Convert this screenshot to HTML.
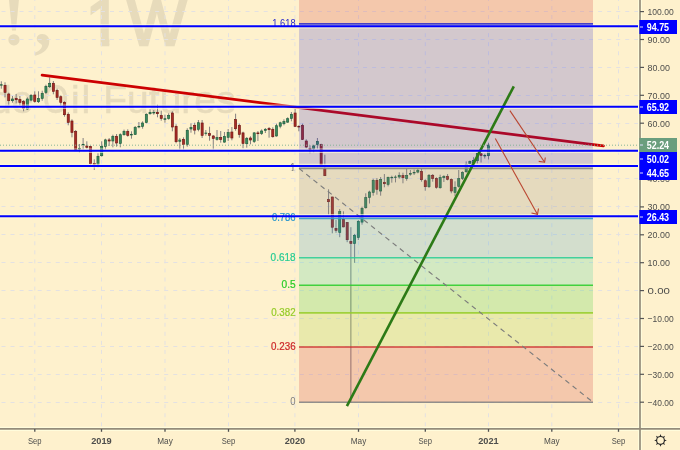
<!DOCTYPE html>
<html><head><meta charset="utf-8"><style>
html,body{margin:0;padding:0;background:#FEF1CD;}
body{width:680px;height:450px;overflow:hidden;}
svg{display:block;will-change:transform;}
</style></head><body>
<svg width="680" height="450" viewBox="0 0 680 450">
<defs><clipPath id="c1"><rect x="80" y="-10" width="40" height="47.6"/><rect x="100.7" y="30" width="8.6" height="20"/></clipPath></defs>
<rect width="680" height="450" fill="#FEF1CD"/>
<g fill="#E7DBBB">
<text x="2.6" y="45.3" font-size="69" font-weight="bold" font-family="Liberation Serif, serif">!</text>
<text x="34" y="45" font-size="72" font-weight="bold" font-family="Liberation Serif, serif">,</text>
<g stroke="#E7DBBB" stroke-width="2.6" font-family="Liberation Sans, sans-serif" font-size="64">
<text x="85.8" y="45" clip-path="url(#c1)">1</text>
<text x="127.3" y="45" textLength="59.2" lengthAdjust="spacingAndGlyphs">W</text>
</g></g>
<g font-size="39" fill="#E7DBBB" stroke="#E7DBBB" stroke-width="0.5" font-family="Liberation Sans, sans-serif">
<text x="33.3" y="113" text-anchor="end">Light Crude</text>
<text x="43.1" y="113.3" font-size="40" textLength="25.5" lengthAdjust="spacingAndGlyphs">O</text>
<text x="71" y="113">i</text>
<text x="81.6" y="113">l</text>
<text x="103.3" y="113">Futures</text>
</g>
<g stroke="#E3E1E2" stroke-width="1" fill="none">
<line x1="0" y1="11.5" x2="640" y2="11.5" stroke-dasharray="4 5.04" stroke-dashoffset="-1.5"/>
<line x1="0" y1="39.5" x2="640" y2="39.5" stroke-dasharray="4 5.04" stroke-dashoffset="-1.5"/>
<line x1="0" y1="67.5" x2="640" y2="67.5" stroke-dasharray="4 5.04" stroke-dashoffset="-1.5"/>
<line x1="0" y1="95.5" x2="640" y2="95.5" stroke-dasharray="4 5.04" stroke-dashoffset="-1.5"/>
<line x1="0" y1="123.5" x2="640" y2="123.5" stroke-dasharray="4 5.04" stroke-dashoffset="-1.5"/>
<line x1="0" y1="151.5" x2="640" y2="151.5" stroke-dasharray="4 5.04" stroke-dashoffset="-1.5"/>
<line x1="0" y1="178.5" x2="640" y2="178.5" stroke-dasharray="4 5.04" stroke-dashoffset="-1.5"/>
<line x1="0" y1="206.5" x2="640" y2="206.5" stroke-dasharray="4 5.04" stroke-dashoffset="-1.5"/>
<line x1="0" y1="234.5" x2="640" y2="234.5" stroke-dasharray="4 5.04" stroke-dashoffset="-1.5"/>
<line x1="0" y1="262.5" x2="640" y2="262.5" stroke-dasharray="4 5.04" stroke-dashoffset="-1.5"/>
<line x1="0" y1="290.5" x2="640" y2="290.5" stroke-dasharray="4 5.04" stroke-dashoffset="-1.5"/>
<line x1="0" y1="318.5" x2="640" y2="318.5" stroke-dasharray="4 5.04" stroke-dashoffset="-1.5"/>
<line x1="0" y1="346.5" x2="640" y2="346.5" stroke-dasharray="4 5.04" stroke-dashoffset="-1.5"/>
<line x1="0" y1="374.5" x2="640" y2="374.5" stroke-dasharray="4 5.04" stroke-dashoffset="-1.5"/>
<line x1="0" y1="402.5" x2="640" y2="402.5" stroke-dasharray="4 5.04" stroke-dashoffset="-1.5"/>
<line x1="34.8" y1="0" x2="34.8" y2="428.8" stroke-dasharray="4 5.05" stroke-dashoffset="-6"/>
<line x1="101.5" y1="0" x2="101.5" y2="428.8" stroke-dasharray="4 5.05" stroke-dashoffset="-6"/>
<line x1="165.0" y1="0" x2="165.0" y2="428.8" stroke-dasharray="4 5.05" stroke-dashoffset="-6"/>
<line x1="228.5" y1="0" x2="228.5" y2="428.8" stroke-dasharray="4 5.05" stroke-dashoffset="-6"/>
<line x1="294.9" y1="0" x2="294.9" y2="428.8" stroke-dasharray="4 5.05" stroke-dashoffset="-6"/>
<line x1="358.5" y1="0" x2="358.5" y2="428.8" stroke-dasharray="4 5.05" stroke-dashoffset="-6"/>
<line x1="425.3" y1="0" x2="425.3" y2="428.8" stroke-dasharray="4 5.05" stroke-dashoffset="-6"/>
<line x1="488.5" y1="0" x2="488.5" y2="428.8" stroke-dasharray="4 5.05" stroke-dashoffset="-6"/>
<line x1="551.8" y1="0" x2="551.8" y2="428.8" stroke-dasharray="4 5.05" stroke-dashoffset="-6"/>
<line x1="618.5" y1="0" x2="618.5" y2="428.8" stroke-dasharray="4 5.05" stroke-dashoffset="-6"/>
</g>
<g>
<line x1="1.30" y1="81.3" x2="1.30" y2="88.7" stroke="#858080" stroke-width="1"/>
<line x1="5.02" y1="82.3" x2="5.02" y2="97.3" stroke="#858080" stroke-width="1"/>
<line x1="8.74" y1="92.7" x2="8.74" y2="105.3" stroke="#858080" stroke-width="1"/>
<line x1="12.46" y1="96" x2="12.46" y2="102.7" stroke="#858080" stroke-width="1"/>
<line x1="16.18" y1="94" x2="16.18" y2="103.3" stroke="#858080" stroke-width="1"/>
<line x1="19.89" y1="96" x2="19.89" y2="105.3" stroke="#858080" stroke-width="1"/>
<line x1="23.61" y1="100" x2="23.61" y2="111.3" stroke="#858080" stroke-width="1"/>
<line x1="27.33" y1="97.3" x2="27.33" y2="110" stroke="#858080" stroke-width="1"/>
<line x1="31.05" y1="94" x2="31.05" y2="101.3" stroke="#858080" stroke-width="1"/>
<line x1="34.77" y1="91.3" x2="34.77" y2="102.7" stroke="#858080" stroke-width="1"/>
<line x1="38.49" y1="91.3" x2="38.49" y2="103" stroke="#858080" stroke-width="1"/>
<line x1="42.21" y1="90.7" x2="42.21" y2="100.7" stroke="#858080" stroke-width="1"/>
<line x1="45.93" y1="84.7" x2="45.93" y2="94" stroke="#858080" stroke-width="1"/>
<line x1="49.65" y1="77.3" x2="49.65" y2="88" stroke="#858080" stroke-width="1"/>
<line x1="53.37" y1="81" x2="53.37" y2="94.3" stroke="#858080" stroke-width="1"/>
<line x1="57.08" y1="88.7" x2="57.08" y2="100" stroke="#858080" stroke-width="1"/>
<line x1="60.80" y1="95.3" x2="60.80" y2="105.7" stroke="#858080" stroke-width="1"/>
<line x1="64.52" y1="101.3" x2="64.52" y2="116.7" stroke="#858080" stroke-width="1"/>
<line x1="68.24" y1="112.4" x2="68.24" y2="125.3" stroke="#858080" stroke-width="1"/>
<line x1="71.96" y1="119.3" x2="71.96" y2="137.3" stroke="#858080" stroke-width="1"/>
<line x1="75.68" y1="130" x2="75.68" y2="150" stroke="#858080" stroke-width="1"/>
<line x1="79.40" y1="144" x2="79.40" y2="152.7" stroke="#858080" stroke-width="1"/>
<line x1="83.12" y1="138" x2="83.12" y2="149.3" stroke="#858080" stroke-width="1"/>
<line x1="86.84" y1="141.3" x2="86.84" y2="148.7" stroke="#858080" stroke-width="1"/>
<line x1="90.56" y1="145.7" x2="90.56" y2="164.7" stroke="#858080" stroke-width="1"/>
<line x1="94.27" y1="159.3" x2="94.27" y2="170" stroke="#858080" stroke-width="1"/>
<line x1="97.99" y1="153.3" x2="97.99" y2="167.3" stroke="#858080" stroke-width="1"/>
<line x1="101.71" y1="141.3" x2="101.71" y2="156.7" stroke="#858080" stroke-width="1"/>
<line x1="105.43" y1="138.7" x2="105.43" y2="149.3" stroke="#858080" stroke-width="1"/>
<line x1="109.15" y1="138" x2="109.15" y2="146" stroke="#858080" stroke-width="1"/>
<line x1="112.87" y1="134.7" x2="112.87" y2="147.3" stroke="#858080" stroke-width="1"/>
<line x1="116.59" y1="134" x2="116.59" y2="146.7" stroke="#858080" stroke-width="1"/>
<line x1="120.31" y1="133.3" x2="120.31" y2="147.3" stroke="#858080" stroke-width="1"/>
<line x1="124.03" y1="129.6" x2="124.03" y2="135.7" stroke="#858080" stroke-width="1"/>
<line x1="127.75" y1="129.3" x2="127.75" y2="136.7" stroke="#858080" stroke-width="1"/>
<line x1="131.47" y1="131.3" x2="131.47" y2="138.7" stroke="#858080" stroke-width="1"/>
<line x1="135.18" y1="126" x2="135.18" y2="135" stroke="#858080" stroke-width="1"/>
<line x1="138.90" y1="122" x2="138.90" y2="128.3" stroke="#858080" stroke-width="1"/>
<line x1="142.62" y1="121.3" x2="142.62" y2="128.7" stroke="#858080" stroke-width="1"/>
<line x1="146.34" y1="113.3" x2="146.34" y2="123.3" stroke="#858080" stroke-width="1"/>
<line x1="150.06" y1="109.3" x2="150.06" y2="114.7" stroke="#858080" stroke-width="1"/>
<line x1="153.78" y1="110" x2="153.78" y2="114.7" stroke="#858080" stroke-width="1"/>
<line x1="157.50" y1="104.7" x2="157.50" y2="117.3" stroke="#858080" stroke-width="1"/>
<line x1="161.22" y1="110.7" x2="161.22" y2="120.7" stroke="#858080" stroke-width="1"/>
<line x1="164.94" y1="114.7" x2="164.94" y2="122.7" stroke="#858080" stroke-width="1"/>
<line x1="168.66" y1="113.3" x2="168.66" y2="119.7" stroke="#858080" stroke-width="1"/>
<line x1="172.37" y1="111.3" x2="172.37" y2="131.3" stroke="#858080" stroke-width="1"/>
<line x1="176.09" y1="124.3" x2="176.09" y2="143.3" stroke="#858080" stroke-width="1"/>
<line x1="179.81" y1="138" x2="179.81" y2="149.3" stroke="#858080" stroke-width="1"/>
<line x1="183.53" y1="137.3" x2="183.53" y2="149.3" stroke="#858080" stroke-width="1"/>
<line x1="187.25" y1="128.3" x2="187.25" y2="146.7" stroke="#858080" stroke-width="1"/>
<line x1="190.97" y1="123.3" x2="190.97" y2="132.7" stroke="#858080" stroke-width="1"/>
<line x1="194.69" y1="122.7" x2="194.69" y2="134.4" stroke="#858080" stroke-width="1"/>
<line x1="198.41" y1="120" x2="198.41" y2="131.3" stroke="#858080" stroke-width="1"/>
<line x1="202.13" y1="120" x2="202.13" y2="138" stroke="#858080" stroke-width="1"/>
<line x1="205.84" y1="130" x2="205.84" y2="135.7" stroke="#858080" stroke-width="1"/>
<line x1="209.56" y1="126.7" x2="209.56" y2="140.7" stroke="#858080" stroke-width="1"/>
<line x1="213.28" y1="135" x2="213.28" y2="149.3" stroke="#858080" stroke-width="1"/>
<line x1="217.00" y1="130" x2="217.00" y2="140.7" stroke="#858080" stroke-width="1"/>
<line x1="220.72" y1="131" x2="220.72" y2="142.7" stroke="#858080" stroke-width="1"/>
<line x1="224.44" y1="132" x2="224.44" y2="142.7" stroke="#858080" stroke-width="1"/>
<line x1="228.16" y1="129" x2="228.16" y2="141" stroke="#858080" stroke-width="1"/>
<line x1="231.88" y1="127" x2="231.88" y2="140.3" stroke="#858080" stroke-width="1"/>
<line x1="235.60" y1="113.7" x2="235.60" y2="130.7" stroke="#858080" stroke-width="1"/>
<line x1="239.32" y1="123.7" x2="239.32" y2="137.7" stroke="#858080" stroke-width="1"/>
<line x1="243.03" y1="131.7" x2="243.03" y2="148.3" stroke="#858080" stroke-width="1"/>
<line x1="246.75" y1="137" x2="246.75" y2="147.7" stroke="#858080" stroke-width="1"/>
<line x1="250.47" y1="136.3" x2="250.47" y2="144.3" stroke="#858080" stroke-width="1"/>
<line x1="254.19" y1="132" x2="254.19" y2="143" stroke="#858080" stroke-width="1"/>
<line x1="257.91" y1="131" x2="257.91" y2="141" stroke="#858080" stroke-width="1"/>
<line x1="261.63" y1="129.4" x2="261.63" y2="135" stroke="#858080" stroke-width="1"/>
<line x1="265.35" y1="128" x2="265.35" y2="133" stroke="#858080" stroke-width="1"/>
<line x1="269.07" y1="127" x2="269.07" y2="137.7" stroke="#858080" stroke-width="1"/>
<line x1="272.79" y1="127.3" x2="272.79" y2="137.7" stroke="#858080" stroke-width="1"/>
<line x1="276.51" y1="123.7" x2="276.51" y2="136.6" stroke="#858080" stroke-width="1"/>
<line x1="280.23" y1="121.7" x2="280.23" y2="128.3" stroke="#858080" stroke-width="1"/>
<line x1="283.94" y1="119.3" x2="283.94" y2="125.3" stroke="#858080" stroke-width="1"/>
<line x1="287.66" y1="117.3" x2="287.66" y2="123" stroke="#858080" stroke-width="1"/>
<line x1="291.38" y1="112" x2="291.38" y2="121.3" stroke="#858080" stroke-width="1"/>
<line x1="295.10" y1="108.7" x2="295.10" y2="126.7" stroke="#858080" stroke-width="1"/>
<line x1="298.82" y1="125.3" x2="298.82" y2="131.3" stroke="#858080" stroke-width="1"/>
<line x1="302.54" y1="123.7" x2="302.54" y2="140" stroke="#858080" stroke-width="1"/>
<line x1="306.26" y1="139.3" x2="306.26" y2="148.3" stroke="#858080" stroke-width="1"/>
<line x1="309.98" y1="145.3" x2="309.98" y2="153.3" stroke="#858080" stroke-width="1"/>
<line x1="313.70" y1="144.7" x2="313.70" y2="152.5" stroke="#858080" stroke-width="1"/>
<line x1="317.42" y1="138" x2="317.42" y2="148.7" stroke="#858080" stroke-width="1"/>
<line x1="321.13" y1="143.7" x2="321.13" y2="166.7" stroke="#858080" stroke-width="1"/>
<line x1="324.85" y1="154.7" x2="324.85" y2="176" stroke="#858080" stroke-width="1"/>
<line x1="328.57" y1="189.3" x2="328.57" y2="214.7" stroke="#858080" stroke-width="1"/>
<line x1="332.29" y1="196.7" x2="332.29" y2="233.3" stroke="#858080" stroke-width="1"/>
<line x1="336.01" y1="220" x2="336.01" y2="232.8" stroke="#858080" stroke-width="1"/>
<line x1="339.73" y1="209" x2="339.73" y2="237.2" stroke="#858080" stroke-width="1"/>
<line x1="343.45" y1="211.3" x2="343.45" y2="227.3" stroke="#858080" stroke-width="1"/>
<line x1="347.17" y1="222" x2="347.17" y2="242.2" stroke="#858080" stroke-width="1"/>
<line x1="350.89" y1="227.2" x2="350.89" y2="402.5" stroke="#858080" stroke-width="1"/>
<line x1="354.61" y1="233.9" x2="354.61" y2="262.8" stroke="#858080" stroke-width="1"/>
<line x1="358.32" y1="220" x2="358.32" y2="240" stroke="#858080" stroke-width="1"/>
<line x1="362.04" y1="206.7" x2="362.04" y2="224.7" stroke="#858080" stroke-width="1"/>
<line x1="365.76" y1="193.3" x2="365.76" y2="208.7" stroke="#858080" stroke-width="1"/>
<line x1="369.48" y1="190.7" x2="369.48" y2="203.5" stroke="#858080" stroke-width="1"/>
<line x1="373.20" y1="178.7" x2="373.20" y2="195.7" stroke="#858080" stroke-width="1"/>
<line x1="376.92" y1="178" x2="376.92" y2="194.7" stroke="#858080" stroke-width="1"/>
<line x1="380.64" y1="177" x2="380.64" y2="195.7" stroke="#858080" stroke-width="1"/>
<line x1="384.36" y1="174" x2="384.36" y2="187.3" stroke="#858080" stroke-width="1"/>
<line x1="388.08" y1="176.7" x2="388.08" y2="186.4" stroke="#858080" stroke-width="1"/>
<line x1="391.80" y1="175.7" x2="391.80" y2="182.7" stroke="#858080" stroke-width="1"/>
<line x1="395.51" y1="175.3" x2="395.51" y2="182.4" stroke="#858080" stroke-width="1"/>
<line x1="399.23" y1="172.3" x2="399.23" y2="178.7" stroke="#858080" stroke-width="1"/>
<line x1="402.95" y1="172.7" x2="402.95" y2="183.3" stroke="#858080" stroke-width="1"/>
<line x1="406.67" y1="168.7" x2="406.67" y2="180.7" stroke="#858080" stroke-width="1"/>
<line x1="410.39" y1="170" x2="410.39" y2="175.7" stroke="#858080" stroke-width="1"/>
<line x1="414.11" y1="169.6" x2="414.11" y2="175" stroke="#858080" stroke-width="1"/>
<line x1="417.83" y1="168.7" x2="417.83" y2="173.3" stroke="#858080" stroke-width="1"/>
<line x1="421.55" y1="168.7" x2="421.55" y2="181.7" stroke="#858080" stroke-width="1"/>
<line x1="425.27" y1="179.3" x2="425.27" y2="190.7" stroke="#858080" stroke-width="1"/>
<line x1="428.99" y1="174" x2="428.99" y2="188" stroke="#858080" stroke-width="1"/>
<line x1="432.70" y1="174" x2="432.70" y2="181.7" stroke="#858080" stroke-width="1"/>
<line x1="436.42" y1="177.3" x2="436.42" y2="188.7" stroke="#858080" stroke-width="1"/>
<line x1="440.14" y1="174.7" x2="440.14" y2="188.7" stroke="#858080" stroke-width="1"/>
<line x1="443.86" y1="175.3" x2="443.86" y2="182" stroke="#858080" stroke-width="1"/>
<line x1="447.58" y1="174" x2="447.58" y2="180.4" stroke="#858080" stroke-width="1"/>
<line x1="451.30" y1="178.3" x2="451.30" y2="193.3" stroke="#858080" stroke-width="1"/>
<line x1="455.02" y1="181.3" x2="455.02" y2="196" stroke="#858080" stroke-width="1"/>
<line x1="458.74" y1="170" x2="458.74" y2="187.6" stroke="#858080" stroke-width="1"/>
<line x1="462.46" y1="171.3" x2="462.46" y2="180" stroke="#858080" stroke-width="1"/>
<line x1="466.18" y1="161.4" x2="466.18" y2="172.8" stroke="#858080" stroke-width="1"/>
<line x1="469.89" y1="160.5" x2="469.89" y2="164.5" stroke="#858080" stroke-width="1"/>
<line x1="473.61" y1="157.2" x2="473.61" y2="164" stroke="#858080" stroke-width="1"/>
<line x1="477.33" y1="152.5" x2="477.33" y2="163.5" stroke="#858080" stroke-width="1"/>
<line x1="481.05" y1="152.8" x2="481.05" y2="162.5" stroke="#858080" stroke-width="1"/>
<line x1="484.77" y1="153.8" x2="484.77" y2="158.5" stroke="#858080" stroke-width="1"/>
<line x1="488.49" y1="142.8" x2="488.49" y2="159.5" stroke="#858080" stroke-width="1"/>
<rect x="0.25" y="84.70" width="2.1" height="0.50" fill="#3A8A5E" stroke="#1E5C3A" stroke-width="0.65"/>
<rect x="3.97" y="85.30" width="2.1" height="7.10" fill="#A82C26" stroke="#6E1512" stroke-width="0.65"/>
<rect x="7.69" y="94.00" width="2.1" height="6.70" fill="#A82C26" stroke="#6E1512" stroke-width="0.65"/>
<rect x="11.41" y="99.00" width="2.1" height="1.70" fill="#3A8A5E" stroke="#1E5C3A" stroke-width="0.65"/>
<rect x="15.13" y="98.30" width="2.1" height="1.40" fill="#A82C26" stroke="#6E1512" stroke-width="0.65"/>
<rect x="18.84" y="99.30" width="2.1" height="3.10" fill="#A82C26" stroke="#6E1512" stroke-width="0.65"/>
<rect x="22.56" y="101.60" width="2.1" height="6.80" fill="#A82C26" stroke="#6E1512" stroke-width="0.65"/>
<rect x="26.28" y="99.00" width="2.1" height="10.00" fill="#3A8A5E" stroke="#1E5C3A" stroke-width="0.65"/>
<rect x="30.00" y="95.60" width="2.1" height="4.50" fill="#3A8A5E" stroke="#1E5C3A" stroke-width="0.65"/>
<rect x="33.72" y="95.00" width="2.1" height="6.40" fill="#A82C26" stroke="#6E1512" stroke-width="0.65"/>
<rect x="37.44" y="98.60" width="2.1" height="3.10" fill="#3A8A5E" stroke="#1E5C3A" stroke-width="0.65"/>
<rect x="41.16" y="93.30" width="2.1" height="5.10" fill="#3A8A5E" stroke="#1E5C3A" stroke-width="0.65"/>
<rect x="44.88" y="86.30" width="2.1" height="6.10" fill="#3A8A5E" stroke="#1E5C3A" stroke-width="0.65"/>
<rect x="48.60" y="83.30" width="2.1" height="3.40" fill="#3A8A5E" stroke="#1E5C3A" stroke-width="0.65"/>
<rect x="52.32" y="83.30" width="2.1" height="8.00" fill="#A82C26" stroke="#6E1512" stroke-width="0.65"/>
<rect x="56.03" y="90.30" width="2.1" height="7.10" fill="#A82C26" stroke="#6E1512" stroke-width="0.65"/>
<rect x="59.75" y="96.70" width="2.1" height="5.70" fill="#A82C26" stroke="#6E1512" stroke-width="0.65"/>
<rect x="63.47" y="102.30" width="2.1" height="12.40" fill="#A82C26" stroke="#6E1512" stroke-width="0.65"/>
<rect x="67.19" y="114.30" width="2.1" height="8.10" fill="#A82C26" stroke="#6E1512" stroke-width="0.65"/>
<rect x="70.91" y="121.00" width="2.1" height="11.40" fill="#A82C26" stroke="#6E1512" stroke-width="0.65"/>
<rect x="74.63" y="131.60" width="2.1" height="17.80" fill="#A82C26" stroke="#6E1512" stroke-width="0.65"/>
<rect x="78.35" y="148.30" width="2.1" height="0.70" fill="#3A8A5E" stroke="#1E5C3A" stroke-width="0.65"/>
<rect x="82.07" y="144.30" width="2.1" height="0.50" fill="#3A8A5E" stroke="#1E5C3A" stroke-width="0.65"/>
<rect x="85.79" y="146.00" width="2.1" height="1.30" fill="#A82C26" stroke="#6E1512" stroke-width="0.65"/>
<rect x="89.51" y="146.60" width="2.1" height="17.10" fill="#A82C26" stroke="#6E1512" stroke-width="0.65"/>
<rect x="93.22" y="163.60" width="2.1" height="0.80" fill="#A82C26" stroke="#6E1512" stroke-width="0.65"/>
<rect x="96.94" y="156.30" width="2.1" height="8.10" fill="#3A8A5E" stroke="#1E5C3A" stroke-width="0.65"/>
<rect x="100.66" y="146.30" width="2.1" height="9.40" fill="#3A8A5E" stroke="#1E5C3A" stroke-width="0.65"/>
<rect x="104.38" y="139.90" width="2.1" height="6.50" fill="#3A8A5E" stroke="#1E5C3A" stroke-width="0.65"/>
<rect x="108.10" y="139.90" width="2.1" height="1.10" fill="#A82C26" stroke="#6E1512" stroke-width="0.65"/>
<rect x="111.82" y="136.30" width="2.1" height="4.70" fill="#3A8A5E" stroke="#1E5C3A" stroke-width="0.65"/>
<rect x="115.54" y="136.30" width="2.1" height="6.70" fill="#A82C26" stroke="#6E1512" stroke-width="0.65"/>
<rect x="119.26" y="134.70" width="2.1" height="8.70" fill="#3A8A5E" stroke="#1E5C3A" stroke-width="0.65"/>
<rect x="122.98" y="131.30" width="2.1" height="3.40" fill="#3A8A5E" stroke="#1E5C3A" stroke-width="0.65"/>
<rect x="126.70" y="131.30" width="2.1" height="4.10" fill="#A82C26" stroke="#6E1512" stroke-width="0.65"/>
<rect x="130.41" y="134.30" width="2.1" height="0.70" fill="#3A8A5E" stroke="#1E5C3A" stroke-width="0.65"/>
<rect x="134.13" y="127.60" width="2.1" height="6.80" fill="#3A8A5E" stroke="#1E5C3A" stroke-width="0.65"/>
<rect x="137.85" y="126.30" width="2.1" height="0.70" fill="#3A8A5E" stroke="#1E5C3A" stroke-width="0.65"/>
<rect x="141.57" y="123.00" width="2.1" height="3.40" fill="#3A8A5E" stroke="#1E5C3A" stroke-width="0.65"/>
<rect x="145.29" y="114.30" width="2.1" height="8.10" fill="#3A8A5E" stroke="#1E5C3A" stroke-width="0.65"/>
<rect x="149.01" y="112.30" width="2.1" height="1.40" fill="#3A8A5E" stroke="#1E5C3A" stroke-width="0.65"/>
<rect x="152.73" y="112.30" width="2.1" height="0.70" fill="#3A8A5E" stroke="#1E5C3A" stroke-width="0.65"/>
<rect x="156.45" y="112.30" width="2.1" height="1.40" fill="#A82C26" stroke="#6E1512" stroke-width="0.65"/>
<rect x="160.17" y="115.60" width="2.1" height="2.80" fill="#A82C26" stroke="#6E1512" stroke-width="0.65"/>
<rect x="163.89" y="118.70" width="2.1" height="0.70" fill="#3A8A5E" stroke="#1E5C3A" stroke-width="0.65"/>
<rect x="167.60" y="115.60" width="2.1" height="2.80" fill="#3A8A5E" stroke="#1E5C3A" stroke-width="0.65"/>
<rect x="171.32" y="113.00" width="2.1" height="14.00" fill="#A82C26" stroke="#6E1512" stroke-width="0.65"/>
<rect x="175.04" y="126.30" width="2.1" height="15.40" fill="#A82C26" stroke="#6E1512" stroke-width="0.65"/>
<rect x="178.76" y="140.00" width="2.1" height="1.30" fill="#3A8A5E" stroke="#1E5C3A" stroke-width="0.65"/>
<rect x="182.48" y="139.30" width="2.1" height="5.10" fill="#A82C26" stroke="#6E1512" stroke-width="0.65"/>
<rect x="186.20" y="130.30" width="2.1" height="14.10" fill="#3A8A5E" stroke="#1E5C3A" stroke-width="0.65"/>
<rect x="189.92" y="127.60" width="2.1" height="1.40" fill="#3A8A5E" stroke="#1E5C3A" stroke-width="0.65"/>
<rect x="193.64" y="125.30" width="2.1" height="4.80" fill="#A82C26" stroke="#6E1512" stroke-width="0.65"/>
<rect x="197.36" y="122.70" width="2.1" height="6.60" fill="#3A8A5E" stroke="#1E5C3A" stroke-width="0.65"/>
<rect x="201.08" y="123.00" width="2.1" height="12.40" fill="#A82C26" stroke="#6E1512" stroke-width="0.65"/>
<rect x="204.79" y="133.00" width="2.1" height="0.50" fill="#3A8A5E" stroke="#1E5C3A" stroke-width="0.65"/>
<rect x="208.51" y="133.60" width="2.1" height="1.80" fill="#A82C26" stroke="#6E1512" stroke-width="0.65"/>
<rect x="212.23" y="136.00" width="2.1" height="2.40" fill="#A82C26" stroke="#6E1512" stroke-width="0.65"/>
<rect x="215.95" y="137.60" width="2.1" height="1.80" fill="#3A8A5E" stroke="#1E5C3A" stroke-width="0.65"/>
<rect x="219.67" y="137.60" width="2.1" height="1.80" fill="#A82C26" stroke="#6E1512" stroke-width="0.65"/>
<rect x="223.39" y="136.60" width="2.1" height="5.50" fill="#3A8A5E" stroke="#1E5C3A" stroke-width="0.65"/>
<rect x="227.11" y="132.60" width="2.1" height="4.70" fill="#3A8A5E" stroke="#1E5C3A" stroke-width="0.65"/>
<rect x="230.83" y="132.00" width="2.1" height="6.00" fill="#A82C26" stroke="#6E1512" stroke-width="0.65"/>
<rect x="234.55" y="119.60" width="2.1" height="9.10" fill="#A82C26" stroke="#6E1512" stroke-width="0.65"/>
<rect x="238.27" y="125.30" width="2.1" height="9.10" fill="#A82C26" stroke="#6E1512" stroke-width="0.65"/>
<rect x="241.98" y="132.90" width="2.1" height="10.50" fill="#A82C26" stroke="#6E1512" stroke-width="0.65"/>
<rect x="245.70" y="138.30" width="2.1" height="5.40" fill="#3A8A5E" stroke="#1E5C3A" stroke-width="0.65"/>
<rect x="249.42" y="138.00" width="2.1" height="2.00" fill="#A82C26" stroke="#6E1512" stroke-width="0.65"/>
<rect x="253.14" y="132.90" width="2.1" height="8.50" fill="#3A8A5E" stroke="#1E5C3A" stroke-width="0.65"/>
<rect x="256.86" y="132.90" width="2.1" height="0.80" fill="#A82C26" stroke="#6E1512" stroke-width="0.65"/>
<rect x="260.58" y="131.00" width="2.1" height="2.40" fill="#3A8A5E" stroke="#1E5C3A" stroke-width="0.65"/>
<rect x="264.30" y="129.30" width="2.1" height="1.10" fill="#3A8A5E" stroke="#1E5C3A" stroke-width="0.65"/>
<rect x="268.02" y="128.60" width="2.1" height="1.10" fill="#A82C26" stroke="#6E1512" stroke-width="0.65"/>
<rect x="271.74" y="129.30" width="2.1" height="7.40" fill="#A82C26" stroke="#6E1512" stroke-width="0.65"/>
<rect x="275.46" y="125.70" width="2.1" height="10.30" fill="#3A8A5E" stroke="#1E5C3A" stroke-width="0.65"/>
<rect x="279.18" y="122.80" width="2.1" height="3.40" fill="#3A8A5E" stroke="#1E5C3A" stroke-width="0.65"/>
<rect x="282.89" y="121.60" width="2.1" height="2.10" fill="#3A8A5E" stroke="#1E5C3A" stroke-width="0.65"/>
<rect x="286.61" y="118.70" width="2.1" height="3.40" fill="#3A8A5E" stroke="#1E5C3A" stroke-width="0.65"/>
<rect x="290.33" y="114.30" width="2.1" height="4.10" fill="#3A8A5E" stroke="#1E5C3A" stroke-width="0.65"/>
<rect x="294.05" y="113.00" width="2.1" height="13.40" fill="#A82C26" stroke="#6E1512" stroke-width="0.65"/>
<rect x="297.77" y="126.30" width="2.1" height="0.70" fill="#A82C26" stroke="#6E1512" stroke-width="0.65"/>
<rect x="301.49" y="125.30" width="2.1" height="14.10" fill="#A82C26" stroke="#6E1512" stroke-width="0.65"/>
<rect x="305.21" y="141.00" width="2.1" height="6.00" fill="#A82C26" stroke="#6E1512" stroke-width="0.65"/>
<rect x="308.93" y="148.60" width="2.1" height="0.60" fill="#A82C26" stroke="#6E1512" stroke-width="0.65"/>
<rect x="312.65" y="145.90" width="2.1" height="2.60" fill="#3A8A5E" stroke="#1E5C3A" stroke-width="0.65"/>
<rect x="316.37" y="141.60" width="2.1" height="2.80" fill="#3A8A5E" stroke="#1E5C3A" stroke-width="0.65"/>
<rect x="320.08" y="144.60" width="2.1" height="20.40" fill="#A82C26" stroke="#6E1512" stroke-width="0.65"/>
<rect x="323.80" y="169.00" width="2.1" height="6.70" fill="#A82C26" stroke="#6E1512" stroke-width="0.65"/>
<rect x="327.52" y="199.60" width="2.1" height="2.10" fill="#A82C26" stroke="#6E1512" stroke-width="0.65"/>
<rect x="331.24" y="197.00" width="2.1" height="30.20" fill="#A82C26" stroke="#6E1512" stroke-width="0.65"/>
<rect x="334.96" y="228.50" width="2.1" height="1.80" fill="#A82C26" stroke="#6E1512" stroke-width="0.65"/>
<rect x="338.68" y="211.60" width="2.1" height="20.90" fill="#3A8A5E" stroke="#1E5C3A" stroke-width="0.65"/>
<rect x="342.40" y="219.30" width="2.1" height="7.60" fill="#A82C26" stroke="#6E1512" stroke-width="0.65"/>
<rect x="346.12" y="222.50" width="2.1" height="17.20" fill="#A82C26" stroke="#6E1512" stroke-width="0.65"/>
<rect x="349.84" y="241.40" width="2.1" height="2.00" fill="#A82C26" stroke="#6E1512" stroke-width="0.65"/>
<rect x="353.56" y="235.30" width="2.1" height="8.30" fill="#3A8A5E" stroke="#1E5C3A" stroke-width="0.65"/>
<rect x="357.27" y="221.40" width="2.1" height="16.10" fill="#3A8A5E" stroke="#1E5C3A" stroke-width="0.65"/>
<rect x="360.99" y="208.30" width="2.1" height="13.80" fill="#3A8A5E" stroke="#1E5C3A" stroke-width="0.65"/>
<rect x="364.71" y="197.60" width="2.1" height="10.10" fill="#3A8A5E" stroke="#1E5C3A" stroke-width="0.65"/>
<rect x="368.43" y="192.00" width="2.1" height="5.40" fill="#3A8A5E" stroke="#1E5C3A" stroke-width="0.65"/>
<rect x="372.15" y="180.30" width="2.1" height="12.10" fill="#3A8A5E" stroke="#1E5C3A" stroke-width="0.65"/>
<rect x="375.87" y="180.30" width="2.1" height="9.00" fill="#A82C26" stroke="#6E1512" stroke-width="0.65"/>
<rect x="379.59" y="179.60" width="2.1" height="11.40" fill="#3A8A5E" stroke="#1E5C3A" stroke-width="0.65"/>
<rect x="383.31" y="182.30" width="2.1" height="1.40" fill="#A82C26" stroke="#6E1512" stroke-width="0.65"/>
<rect x="387.03" y="177.30" width="2.1" height="7.10" fill="#3A8A5E" stroke="#1E5C3A" stroke-width="0.65"/>
<rect x="390.75" y="177.30" width="2.1" height="0.50" fill="#3A8A5E" stroke="#1E5C3A" stroke-width="0.65"/>
<rect x="394.46" y="177.00" width="2.1" height="0.50" fill="#3A8A5E" stroke="#1E5C3A" stroke-width="0.65"/>
<rect x="398.18" y="175.30" width="2.1" height="1.70" fill="#3A8A5E" stroke="#1E5C3A" stroke-width="0.65"/>
<rect x="401.90" y="175.60" width="2.1" height="2.10" fill="#A82C26" stroke="#6E1512" stroke-width="0.65"/>
<rect x="405.62" y="175.60" width="2.1" height="2.80" fill="#3A8A5E" stroke="#1E5C3A" stroke-width="0.65"/>
<rect x="409.34" y="173.60" width="2.1" height="0.60" fill="#3A8A5E" stroke="#1E5C3A" stroke-width="0.65"/>
<rect x="413.06" y="172.50" width="2.1" height="0.50" fill="#3A8A5E" stroke="#1E5C3A" stroke-width="0.65"/>
<rect x="416.78" y="170.30" width="2.1" height="1.80" fill="#3A8A5E" stroke="#1E5C3A" stroke-width="0.65"/>
<rect x="420.50" y="171.30" width="2.1" height="8.40" fill="#A82C26" stroke="#6E1512" stroke-width="0.65"/>
<rect x="424.22" y="180.70" width="2.1" height="6.00" fill="#A82C26" stroke="#6E1512" stroke-width="0.65"/>
<rect x="427.94" y="175.30" width="2.1" height="11.40" fill="#3A8A5E" stroke="#1E5C3A" stroke-width="0.65"/>
<rect x="431.65" y="175.30" width="2.1" height="3.10" fill="#A82C26" stroke="#6E1512" stroke-width="0.65"/>
<rect x="435.37" y="178.60" width="2.1" height="8.70" fill="#A82C26" stroke="#6E1512" stroke-width="0.65"/>
<rect x="439.09" y="177.60" width="2.1" height="10.10" fill="#3A8A5E" stroke="#1E5C3A" stroke-width="0.65"/>
<rect x="442.81" y="176.30" width="2.1" height="1.40" fill="#3A8A5E" stroke="#1E5C3A" stroke-width="0.65"/>
<rect x="446.53" y="176.30" width="2.1" height="3.00" fill="#A82C26" stroke="#6E1512" stroke-width="0.65"/>
<rect x="450.25" y="179.60" width="2.1" height="11.40" fill="#A82C26" stroke="#6E1512" stroke-width="0.65"/>
<rect x="453.97" y="187.30" width="2.1" height="5.10" fill="#3A8A5E" stroke="#1E5C3A" stroke-width="0.65"/>
<rect x="457.69" y="178.60" width="2.1" height="7.80" fill="#3A8A5E" stroke="#1E5C3A" stroke-width="0.65"/>
<rect x="461.41" y="172.30" width="2.1" height="6.10" fill="#3A8A5E" stroke="#1E5C3A" stroke-width="0.65"/>
<rect x="465.12" y="164.30" width="2.1" height="7.40" fill="#3A8A5E" stroke="#1E5C3A" stroke-width="0.65"/>
<rect x="468.84" y="161.50" width="2.1" height="2.20" fill="#3A8A5E" stroke="#1E5C3A" stroke-width="0.65"/>
<rect x="472.56" y="160.30" width="2.1" height="2.40" fill="#3A8A5E" stroke="#1E5C3A" stroke-width="0.65"/>
<rect x="476.28" y="153.50" width="2.1" height="7.20" fill="#3A8A5E" stroke="#1E5C3A" stroke-width="0.65"/>
<rect x="480.00" y="153.80" width="2.1" height="1.70" fill="#A82C26" stroke="#6E1512" stroke-width="0.65"/>
<rect x="483.72" y="155.50" width="2.1" height="0.50" fill="#3A8A5E" stroke="#1E5C3A" stroke-width="0.65"/>
<rect x="487.44" y="145.10" width="2.1" height="10.60" fill="#3A8A5E" stroke="#1E5C3A" stroke-width="0.65"/>
</g>
<line x1="42.1" y1="75.1" x2="603.4" y2="145.9" stroke="#CC0000" stroke-width="2.8" stroke-linecap="round"/>
<rect x="299" y="347.02" width="294" height="55.18" fill="#CC2828" fill-opacity="0.2"/>
<rect x="299" y="312.89" width="294" height="34.13" fill="#95CC28" fill-opacity="0.2"/>
<rect x="299" y="285.30" width="294" height="27.59" fill="#28CC28" fill-opacity="0.2"/>
<rect x="299" y="257.71" width="294" height="27.59" fill="#28CC95" fill-opacity="0.2"/>
<rect x="299" y="218.43" width="294" height="39.28" fill="#2895CC" fill-opacity="0.2"/>
<rect x="299" y="168.40" width="294" height="50.03" fill="#808080" fill-opacity="0.2"/>
<rect x="299" y="23.91" width="294" height="144.49" fill="#2828CC" fill-opacity="0.2"/>
<rect x="299" y="0.00" width="294" height="23.91" fill="#CC2828" fill-opacity="0.2"/>
<line x1="0" y1="24.50" x2="640" y2="24.50" stroke="#FFFCDA" stroke-width="1.1" stroke-opacity="0.65"/>
<line x1="0" y1="27.90" x2="640" y2="27.90" stroke="#FFFCDA" stroke-width="1.1" stroke-opacity="0.65"/>
<line x1="0" y1="105.10" x2="640" y2="105.10" stroke="#FFFCDA" stroke-width="1.1" stroke-opacity="0.65"/>
<line x1="0" y1="108.50" x2="640" y2="108.50" stroke="#FFFCDA" stroke-width="1.1" stroke-opacity="0.65"/>
<line x1="0" y1="149.00" x2="640" y2="149.00" stroke="#FFFCDA" stroke-width="1.1" stroke-opacity="0.65"/>
<line x1="0" y1="152.40" x2="640" y2="152.40" stroke="#FFFCDA" stroke-width="1.1" stroke-opacity="0.65"/>
<line x1="0" y1="164.40" x2="640" y2="164.40" stroke="#FFFCDA" stroke-width="1.1" stroke-opacity="0.65"/>
<line x1="0" y1="167.80" x2="640" y2="167.80" stroke="#FFFCDA" stroke-width="1.1" stroke-opacity="0.65"/>
<line x1="0" y1="214.50" x2="640" y2="214.50" stroke="#FFFCDA" stroke-width="1.1" stroke-opacity="0.65"/>
<line x1="0" y1="217.90" x2="640" y2="217.90" stroke="#FFFCDA" stroke-width="1.1" stroke-opacity="0.65"/>
<line x1="299" y1="402.20" x2="593" y2="402.20" stroke="#808080" stroke-width="1.6" stroke-opacity="0.85"/>
<line x1="299" y1="347.02" x2="593" y2="347.02" stroke="#CC2828" stroke-width="1.6" stroke-opacity="0.85"/>
<line x1="299" y1="312.89" x2="593" y2="312.89" stroke="#95CC28" stroke-width="1.6" stroke-opacity="0.85"/>
<line x1="299" y1="285.30" x2="593" y2="285.30" stroke="#28CC28" stroke-width="1.6" stroke-opacity="0.85"/>
<line x1="299" y1="257.71" x2="593" y2="257.71" stroke="#28CC95" stroke-width="1.6" stroke-opacity="0.85"/>
<line x1="299" y1="218.43" x2="593" y2="218.43" stroke="#2895CC" stroke-width="1.6" stroke-opacity="0.85"/>
<line x1="299" y1="168.40" x2="593" y2="168.40" stroke="#808080" stroke-width="1.6" stroke-opacity="0.85"/>
<line x1="299" y1="23.91" x2="593" y2="23.91" stroke="#2828CC" stroke-width="1.6" stroke-opacity="0.85"/>
<line x1="299" y1="168.40" x2="593" y2="402.20" stroke="#7C7C7C" stroke-width="1.15" stroke-dasharray="5 4.2"/>
<g font-family="Liberation Sans, sans-serif" font-size="10" text-anchor="end" stroke-width="0.22">
<text x="295.6" y="405.20" fill="#808080" textLength="5.3" lengthAdjust="spacingAndGlyphs">0</text>
<text x="295.6" y="350.02" fill="#CC2828" stroke="#CC2828" textLength="24.5" lengthAdjust="spacingAndGlyphs">0.236</text>
<text x="295.6" y="315.89" fill="#95CC28" stroke="#95CC28" textLength="24.4" lengthAdjust="spacingAndGlyphs">0.382</text>
<text x="295.6" y="288.30" fill="#28CC28" stroke="#28CC28" textLength="14.1" lengthAdjust="spacingAndGlyphs">0.5</text>
<text x="295.6" y="260.71" fill="#28CC95" stroke="#28CC95" textLength="25.0" lengthAdjust="spacingAndGlyphs">0.618</text>
<text x="295.6" y="221.43" fill="#2895CC" stroke="#2895CC" textLength="23.7" lengthAdjust="spacingAndGlyphs">0.786</text>
<clipPath id="c2"><rect x="285" y="150" width="15" height="20.15"/><rect x="291.85" y="169.40" width="1.45" height="3"/></clipPath>
<text x="295.6" y="171.40" fill="#808080" clip-path="url(#c2)">1</text>
<text x="295.6" y="26.91" fill="#2828CC" textLength="23.3" lengthAdjust="spacingAndGlyphs">1.618</text>
</g>
<line x1="346.9" y1="406.2" x2="513.8" y2="86.4" stroke="#2C7A16" stroke-width="2.6" stroke-linecap="butt"/>
<line x1="0" y1="26.20" x2="640" y2="26.20" stroke="#0000FF" stroke-width="2"/>
<line x1="0" y1="106.80" x2="640" y2="106.80" stroke="#0000FF" stroke-width="2"/>
<line x1="0" y1="150.70" x2="640" y2="150.70" stroke="#0000FF" stroke-width="2"/>
<line x1="0" y1="166.10" x2="640" y2="166.10" stroke="#0000FF" stroke-width="2"/>
<line x1="0" y1="216.20" x2="640" y2="216.20" stroke="#0000FF" stroke-width="2"/>
<line x1="0" y1="145.20" x2="640" y2="145.20" stroke="#86B497" stroke-width="1" stroke-dasharray="1 2"/>
<g stroke="#BA4630" stroke-width="1.1" fill="none">
<line x1="509.9" y1="110.6" x2="544.6" y2="162.2"/>
<polyline points="538.7,161.4 544.6,162.2 545.3,157.5"/>
<line x1="495.3" y1="138.4" x2="537.5" y2="214.4"/>
<polyline points="531.5,213 537.5,214.4 538.5,208.5"/>
</g>
<line x1="0" y1="428.8" x2="680" y2="428.8" stroke="#FFFCDC" stroke-width="4.2"/>
<line x1="640" y1="0" x2="640" y2="450" stroke="#FFFCDC" stroke-width="4"/>
<line x1="0" y1="428.8" x2="680" y2="428.8" stroke="#948C7A" stroke-width="1.8"/>
<line x1="640" y1="0" x2="640" y2="450" stroke="#948C7A" stroke-width="1.7"/>
<g font-family="Liberation Sans, sans-serif" font-size="9.5" fill="#4E4E4C">
<text x="647.6" y="15.00" textLength="26.1" lengthAdjust="spacingAndGlyphs">100.00</text>
<line x1="640" y1="11.60" x2="644" y2="11.60" stroke="#555555" stroke-width="1.2"/>
<text x="647.6" y="42.90" textLength="22.3" lengthAdjust="spacingAndGlyphs">90.00</text>
<line x1="640" y1="39.50" x2="644" y2="39.50" stroke="#555555" stroke-width="1.2"/>
<text x="647.6" y="70.80" textLength="22.3" lengthAdjust="spacingAndGlyphs">80.00</text>
<line x1="640" y1="67.40" x2="644" y2="67.40" stroke="#555555" stroke-width="1.2"/>
<text x="647.6" y="98.70" textLength="22.3" lengthAdjust="spacingAndGlyphs">70.00</text>
<line x1="640" y1="95.30" x2="644" y2="95.30" stroke="#555555" stroke-width="1.2"/>
<text x="647.6" y="126.60" textLength="22.3" lengthAdjust="spacingAndGlyphs">60.00</text>
<line x1="640" y1="123.20" x2="644" y2="123.20" stroke="#555555" stroke-width="1.2"/>
<text x="647.6" y="154.50" textLength="22.3" lengthAdjust="spacingAndGlyphs">50.00</text>
<line x1="640" y1="151.10" x2="644" y2="151.10" stroke="#555555" stroke-width="1.2"/>
<text x="647.6" y="182.40" textLength="22.3" lengthAdjust="spacingAndGlyphs">40.00</text>
<line x1="640" y1="179.00" x2="644" y2="179.00" stroke="#555555" stroke-width="1.2"/>
<text x="647.6" y="210.30" textLength="22.3" lengthAdjust="spacingAndGlyphs">30.00</text>
<line x1="640" y1="206.90" x2="644" y2="206.90" stroke="#555555" stroke-width="1.2"/>
<text x="647.6" y="238.20" textLength="22.3" lengthAdjust="spacingAndGlyphs">20.00</text>
<line x1="640" y1="234.80" x2="644" y2="234.80" stroke="#555555" stroke-width="1.2"/>
<text x="647.6" y="266.10" textLength="22.3" lengthAdjust="spacingAndGlyphs">10.00</text>
<line x1="640" y1="262.70" x2="644" y2="262.70" stroke="#555555" stroke-width="1.2"/>
<text x="647.6" y="294.00" textLength="22.3" lengthAdjust="spacingAndGlyphs">0.00</text>
<line x1="640" y1="290.60" x2="644" y2="290.60" stroke="#555555" stroke-width="1.2"/>
<text x="647.6" y="321.90" textLength="26.1" lengthAdjust="spacingAndGlyphs">−10.00</text>
<line x1="640" y1="318.50" x2="644" y2="318.50" stroke="#555555" stroke-width="1.2"/>
<text x="647.6" y="349.80" textLength="26.1" lengthAdjust="spacingAndGlyphs">−20.00</text>
<line x1="640" y1="346.40" x2="644" y2="346.40" stroke="#555555" stroke-width="1.2"/>
<text x="647.6" y="377.70" textLength="26.1" lengthAdjust="spacingAndGlyphs">−30.00</text>
<line x1="640" y1="374.30" x2="644" y2="374.30" stroke="#555555" stroke-width="1.2"/>
<text x="647.6" y="405.60" textLength="26.1" lengthAdjust="spacingAndGlyphs">−40.00</text>
<line x1="640" y1="402.20" x2="644" y2="402.20" stroke="#555555" stroke-width="1.2"/>
</g>
<g font-family="Liberation Sans, sans-serif" font-size="10" font-weight="bold" fill="#FFFFFF">
<rect x="639.4" y="20" width="37.6" height="14" fill="#0000FF"/>
<rect x="639.4" y="100" width="37.6" height="14" fill="#0000FF"/>
<rect x="639.4" y="138" width="37.6" height="14" fill="#6A9E7E"/>
<rect x="639.4" y="152" width="37.6" height="14" fill="#0000FF"/>
<rect x="639.4" y="166" width="37.6" height="14" fill="#0000FF"/>
<rect x="639.4" y="210" width="37.6" height="14" fill="#0000FF"/>
<line x1="640" y1="27.00" x2="643" y2="27.00" stroke="#E0E0FF" stroke-width="1"/>
<text x="646.7" y="30.60" textLength="22.4" lengthAdjust="spacingAndGlyphs">94.75</text>
<line x1="640" y1="107.00" x2="643" y2="107.00" stroke="#E0E0FF" stroke-width="1"/>
<text x="646.7" y="110.60" textLength="22.4" lengthAdjust="spacingAndGlyphs">65.92</text>
<line x1="640" y1="145.00" x2="643" y2="145.00" stroke="#E0E0FF" stroke-width="1"/>
<text x="646.7" y="148.60" textLength="22.4" lengthAdjust="spacingAndGlyphs">52.24</text>
<line x1="640" y1="159.00" x2="643" y2="159.00" stroke="#E0E0FF" stroke-width="1"/>
<text x="646.7" y="162.60" textLength="22.4" lengthAdjust="spacingAndGlyphs">50.02</text>
<line x1="640" y1="173.00" x2="643" y2="173.00" stroke="#E0E0FF" stroke-width="1"/>
<text x="646.7" y="176.60" textLength="22.4" lengthAdjust="spacingAndGlyphs">44.65</text>
<line x1="640" y1="217.00" x2="643" y2="217.00" stroke="#E0E0FF" stroke-width="1"/>
<text x="646.7" y="220.60" textLength="22.4" lengthAdjust="spacingAndGlyphs">26.43</text>
</g>
<g font-family="Liberation Sans, sans-serif" font-size="9" fill="#4E4E4C" text-anchor="middle">
<line x1="34.8" y1="429" x2="34.8" y2="431.8" stroke="#505050" stroke-width="1.3"/>
<text x="34.8" y="444.3" textLength="13.6" lengthAdjust="spacingAndGlyphs">Sep</text>
<line x1="101.5" y1="429" x2="101.5" y2="431.8" stroke="#505050" stroke-width="1.3"/>
<text x="101.5" y="444.3" font-weight="bold" textLength="20.5" lengthAdjust="spacingAndGlyphs">2019</text>
<line x1="165.0" y1="429" x2="165.0" y2="431.8" stroke="#505050" stroke-width="1.3"/>
<text x="165.0" y="444.3" textLength="15.5" lengthAdjust="spacingAndGlyphs">May</text>
<line x1="228.5" y1="429" x2="228.5" y2="431.8" stroke="#505050" stroke-width="1.3"/>
<text x="228.5" y="444.3" textLength="13.6" lengthAdjust="spacingAndGlyphs">Sep</text>
<line x1="294.9" y1="429" x2="294.9" y2="431.8" stroke="#505050" stroke-width="1.3"/>
<text x="294.9" y="444.3" font-weight="bold" textLength="20.5" lengthAdjust="spacingAndGlyphs">2020</text>
<line x1="358.5" y1="429" x2="358.5" y2="431.8" stroke="#505050" stroke-width="1.3"/>
<text x="358.5" y="444.3" textLength="15.5" lengthAdjust="spacingAndGlyphs">May</text>
<line x1="425.3" y1="429" x2="425.3" y2="431.8" stroke="#505050" stroke-width="1.3"/>
<text x="425.3" y="444.3" textLength="13.6" lengthAdjust="spacingAndGlyphs">Sep</text>
<line x1="488.5" y1="429" x2="488.5" y2="431.8" stroke="#505050" stroke-width="1.3"/>
<text x="488.5" y="444.3" font-weight="bold" textLength="20.5" lengthAdjust="spacingAndGlyphs">2021</text>
<line x1="551.8" y1="429" x2="551.8" y2="431.8" stroke="#505050" stroke-width="1.3"/>
<text x="551.8" y="444.3" textLength="15.5" lengthAdjust="spacingAndGlyphs">May</text>
<line x1="618.5" y1="429" x2="618.5" y2="431.8" stroke="#505050" stroke-width="1.3"/>
<text x="618.5" y="444.3" textLength="13.6" lengthAdjust="spacingAndGlyphs">Sep</text>
</g>
<g fill="#262626"><circle cx="660.5" cy="440.4" r="3.9" fill="none" stroke="#262626" stroke-width="1.15"/><polygon points="661.45,436.50 660.50,434.00 659.55,436.50"/><polygon points="663.93,438.31 665.03,435.87 662.59,436.97"/><polygon points="664.40,441.35 666.90,440.40 664.40,439.45"/><polygon points="662.59,443.83 665.03,444.93 663.93,442.49"/><polygon points="659.55,444.30 660.50,446.80 661.45,444.30"/><polygon points="657.07,442.49 655.97,444.93 658.41,443.83"/><polygon points="656.60,439.45 654.10,440.40 656.60,441.35"/><polygon points="658.41,436.97 655.97,435.87 657.07,438.31"/></g>
</svg>
</body></html>
